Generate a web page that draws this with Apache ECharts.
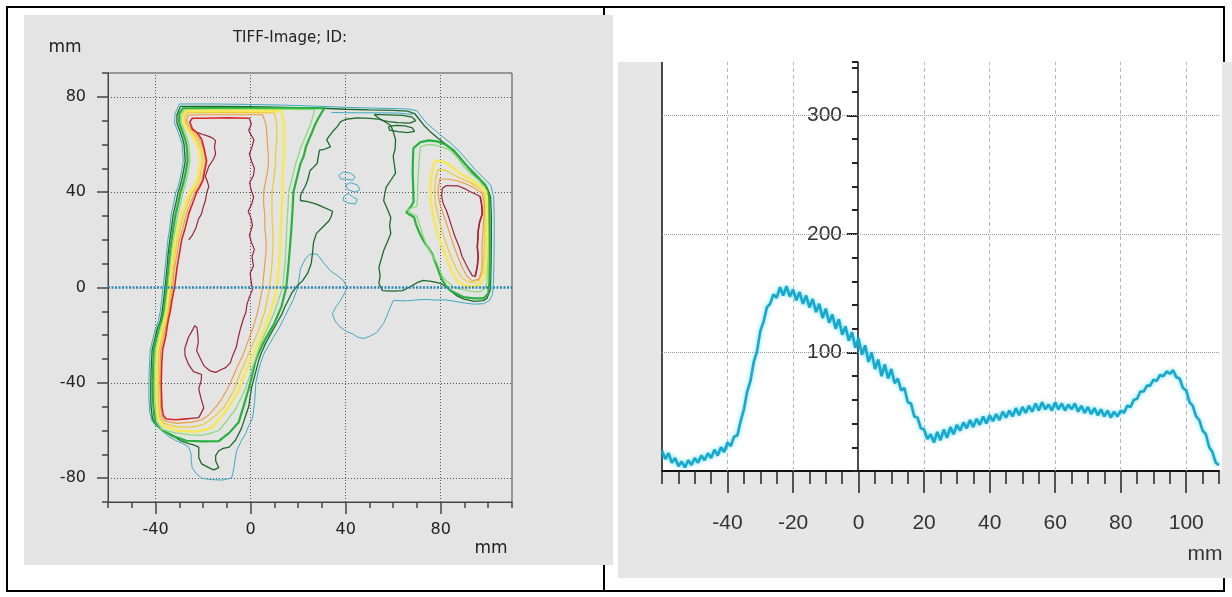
<!DOCTYPE html>
<html><head><meta charset="utf-8">
<script src="https://cdn.jsdelivr.net/npm/echarts@6/dist/echarts.min.js"></script>
<style>html,body{margin:0;padding:0;background:#fff;}#c{width:1232px;height:597px;}</style>
</head><body><div id="c"></div>
<script>
// ---------- LEFT PANEL: isodose contours (x mm, y mm) ----------
const leftXTicks = [-40, 0, 40, 80];
const leftYTicks = [-80, -40, 0, 40, 80];
const profileLineY = 0;

const cyanOuter = [[-30,77],[-15,77],[0,76.8],[15,76.5],[30,76],[40,75.6],[50,75.3],[60,75.1],[66,74.9],[70,74.2],[72,71.5],[74,69],[77,66.5],[80.5,63.5],[84.5,60.3],[88,57],[91,53.5],[94.5,49.5],[98,46],[101,43],[102.3,38],[102.5,30],[102.5,20],[102.4,10],[102.2,2],[101.8,-3],[100.5,-5.5],[98,-6.8],[94,-7],[90,-6.5],[86,-5.8],[82,-5.2],[78,-5.3],[74,-5],[70,-5.2],[66,-5.6],[62,-5.5],[60,-5.5],[58.8,-8.3],[57.5,-11.5],[56,-15],[54.5,-17],[53,-19],[50,-20.5],[47.5,-21.4],[45,-20.8],[43,-19.5],[40.5,-18.5],[37.8,-16.7],[35.5,-14],[34.4,-11],[36,-8],[37.8,-5.5],[39.5,-2.5],[40.6,0],[39,3],[36.5,5],[33.6,7],[31,10],[28,14],[25,14],[23,12],[21,8],[20.3,3],[19.5,-1],[18,-5],[16,-9],[14,-13],[12,-17],[9.5,-21],[7.5,-24.5],[5.5,-28],[4.3,-31.5],[3.3,-35],[2.2,-40],[1.7,-48],[0.8,-55],[-1,-58.5],[-2.1,-61.4],[-4,-64.5],[-5.9,-68.5],[-6.5,-72],[-7,-75.6],[-7.5,-78],[-8,-80],[-12,-80.8],[-16.4,-80.6],[-19,-80.3],[-20.6,-80],[-23,-78],[-24.6,-75.6],[-25,-72.5],[-25,-70],[-26,-67],[-28.5,-65.5],[-31.5,-64.2],[-34.5,-62.5],[-37.4,-60],[-39.8,-58],[-41.5,-56],[-42.5,-52],[-42.8,-46],[-42.8,-40],[-42.6,-33],[-42.2,-26],[-41,-21],[-40,-17],[-38.8,-14],[-38,-10],[-37.4,-5],[-36.8,0],[-36,8],[-35.4,14],[-34.8,20],[-34,25],[-33.4,31],[-32.4,35],[-31.5,40],[-30.6,42],[-29.8,45],[-29,49],[-28.3,53],[-28.6,57],[-28.8,60],[-29.4,62],[-30.4,65],[-32,69],[-31.8,73],[-30,77]];
const cyanTop = [[34,73.4],[45,73.3],[55,73.3],[62,73.2],[68,72.6]];
const cyanIsland1 = [[37,47],[39,48.5],[42,48],[44,46.5],[43,45],[40,45.5],[38,45.5],[37,47]];
const cyanIsland2 = [[40,43],[42,44],[45,43],[46,41],[44,40],[41,41],[40,43]];
const cyanIsland3 = [[39,38],[41,39.5],[43,38],[45,37],[44,35],[41,35.5],[39,36.5],[39,38]];

const dkGreenMain = [[-29.5,76],[-15,76],[0,75.9],[15,75.6],[30,75.2],[40,74.8],[50,74.5],[60,74.3],[66,74],[69,73],[71,70.5],[73,68],[75.5,65.5],[79,62.5],[83,59.5],[86.5,56],[89.5,52.5],[93,48.5],[96.5,45],[99.5,42],[101,38],[101.3,30],[101.3,20],[101.2,10],[101,2],[100.8,-1.3],[99.5,-4.5],[98,-5.5],[94,-5.8],[89.5,-4.8],[86.5,-3.3],[84,-1.3],[81.5,0.8],[80,1.7],[76,2.6],[72.7,3],[70,2],[68,0.8],[64,-1.3],[60,-1.5],[55.5,-1.3],[54,1.7],[54.5,5],[54,8.4],[55,12],[56,15.5],[57.5,19],[59,22.7],[58.5,26],[59,29.4],[57.5,33],[56,36.5],[56.5,39.5],[57,42],[59,45],[61,48],[60.5,51.5],[60,55],[60.8,58],[61,62],[60,65.5],[59,68],[55,70.5],[50,71],[45,71.2],[40,70.6],[37.8,69.5],[36.5,67.5],[35,66],[33.5,64],[32,62],[33.6,59],[31,58],[29,57.6],[28.5,55],[28,52],[26.5,50.5],[25,49],[24.5,47],[24,45],[23,42.5],[22,40.7],[21,38.5],[21,36.5],[24,36],[27.7,35],[31,33.5],[34.5,32],[34,30],[33,28],[30.5,25.5],[27.7,22.7],[26.5,19],[26,14],[25.5,10],[24,6],[22,3],[19.5,0.5],[17.5,-2],[16,-5],[14.5,-8],[13,-11.5],[11,-15],[9,-18.5],[6.3,-23.5],[4.5,-27.5],[3.4,-30.7],[2,-36],[0.4,-42],[-0.8,-50],[-2.5,-55],[-3.8,-59],[-6.3,-64],[-9,-67],[-11.5,-67.5],[-13.4,-68.5],[-14.7,-70.5],[-14.7,-72.7],[-13.4,-75.6],[-15.5,-76.5],[-17.6,-75.6],[-20.6,-74],[-21.8,-71.4],[-21.8,-67],[-24,-66],[-26,-65.5],[-29,-64.5],[-31.5,-63],[-34,-61.8],[-36,-60.5],[-38.5,-58.5],[-40.2,-57],[-41.3,-55],[-41.9,-50],[-42,-46],[-42,-40],[-41.8,-33],[-41.4,-26],[-40.2,-21],[-39.2,-17],[-38,-14],[-37.2,-10],[-36.6,-5],[-36,0],[-35.2,8],[-34.7,14],[-34,20],[-33.3,25],[-32.5,31],[-31.5,35],[-30.5,40],[-29.8,42],[-29,45],[-28.2,49],[-27.5,53],[-27.8,57],[-28,60],[-28.5,62],[-29.5,65],[-31,69],[-31,72.5],[-29.5,76]];
const dkGreenLoop1 = [[52,72.6],[58,72.4],[64,72.2],[68,71.5],[69.5,70],[67,69],[62,69.2],[58,69.6],[55,70.2],[52,72.6]];
const dkGreenLoop2 = [[58,67.5],[61,68],[65,67.8],[68,67],[69,65.5],[66,65],[62,65.4],[58.5,66],[58,67.5]];

const greenLeft = [[31,75.2],[20,75.3],[0,75.3],[-15,75.3],[-28.5,75.2],[-30,73],[-30,69],[-28.5,65],[-27.5,62],[-27,60],[-26.7,57],[-26.5,53],[-27.2,49],[-28,45],[-28.8,42],[-29.5,40],[-30.5,35],[-31.5,31],[-32.5,25],[-33.2,20],[-34,14],[-34.5,8],[-35.3,0],[-35.9,-5],[-36.5,-10],[-37.5,-14],[-38.5,-17],[-39.5,-21],[-40.7,-26],[-41,-33],[-41.2,-40],[-41.1,-46],[-40.9,-50],[-40.2,-56.5],[-37,-60],[-32,-62.5],[-27,-64.3],[-20,-64.6],[-13.4,-64.5],[-9,-61],[-5,-56.5],[-3,-50],[-0.8,-42.5],[0.6,-37],[2,-31],[4,-26],[6,-22],[8,-18.5],[10,-15],[11.5,-11.5],[13,-8],[14,-4],[15,0],[15.5,5],[16,10],[16.4,15],[16.8,20],[17.2,25],[17.5,30],[17.8,35],[18,40],[19,44],[20,48],[21,52],[22.3,55],[23.3,59],[24.5,62],[25.8,65],[27,68],[28.5,71],[31,75.2]];
const greenRight = [[68.5,58.5],[71.5,61],[75,61.7],[78.5,61.3],[82,60],[85.5,57.5],[88.5,54],[91.5,50.5],[95,47],[98.8,43],[100.4,38],[100.5,30],[100.6,20],[100.6,10],[100.5,2],[100,-2.5],[98,-4.6],[94,-4.6],[89.5,-4],[86.5,-2.5],[84,-1.3],[82,1],[80.7,3],[79.5,5.7],[78.6,8.4],[77.5,11.2],[76.5,14],[74.5,17],[72.7,19.7],[71,23],[69.6,26.5],[68.8,29.5],[67,30.5],[65.5,31.5],[67.5,34],[68.6,36],[68.4,42],[68.2,48],[68.3,53],[68.5,58.5]];

const ltGreenLeft = [[27,74.6],[15,74.7],[0,74.7],[-15,74.7],[-27.8,74.6],[-29.2,72],[-29.2,69],[-27.5,65],[-26.5,62],[-26,60],[-25.7,57],[-25.5,53],[-26.2,49],[-27,45],[-27.8,42],[-28.5,40],[-29.5,35],[-30.5,31],[-31.6,25],[-32.5,20],[-33.3,14],[-34,8],[-34.8,0],[-35.4,-5],[-36,-10],[-36.8,-14],[-37.8,-17],[-38.8,-21],[-40,-26],[-40.3,-33],[-40.4,-40],[-40.3,-46],[-40.1,-50],[-39.5,-56],[-37.5,-59.5],[-31.5,-61],[-25,-61.8],[-20.6,-62],[-17,-61.2],[-13.4,-60],[-10,-56],[-6.3,-51],[-4,-46.5],[-2,-42],[-0.5,-37.5],[1,-33],[2.5,-28.5],[4,-24],[6,-19.5],[8,-15],[10,-10.5],[11.5,-6],[13.5,0],[14,5],[14.5,10],[14.8,15],[15,20],[15.2,25],[15.5,30],[15.8,35],[16,40],[17,44],[18,48],[19,52],[20,55],[21.2,59],[22.5,62],[23.8,65],[25,68],[26,71],[27,74.6]];
const ltGreenRight = [[71.4,59],[74.5,60],[77.7,59.7],[81,58.8],[84,57.6],[87,54.5],[89.5,51],[93,47.5],[96,45],[98,42.4],[99.3,38],[99.5,34],[99.6,27],[99.6,20],[99.6,10],[99.5,2],[98.5,-0.5],[96.6,-1.7],[93,-1.6],[90,-1],[87.5,-0.5],[85.3,0.4],[82.8,2.4],[80.7,4.6],[79.6,7.5],[78.6,10],[76.5,13.5],[74.4,17],[72.8,21],[71.5,25],[70.5,28],[70,30],[67.5,31.2],[66,32.4],[68,33.5],[70,34],[70.3,38],[70.3,43],[70.6,48],[70.9,53],[71.4,59]];

const yellowLeft = [[13,74],[0,74.1],[-15,74.1],[-27,74],[-28.5,72],[-28,69],[-26.8,66.5],[-25.5,65],[-23.5,62],[-22.5,60],[-21.5,57],[-21,53],[-21.8,49],[-22.5,45],[-24,42],[-25.5,40],[-27.5,35],[-29,31],[-30.5,25],[-31.5,20],[-32.5,14],[-33.2,8],[-34,0],[-34.7,-5],[-35.3,-10],[-36.2,-14],[-37,-17],[-38,-21],[-39.2,-26],[-39.5,-33],[-39.6,-40],[-39.5,-46],[-39.3,-50],[-38.8,-55],[-37,-58],[-31,-60],[-23,-60.5],[-19,-59.7],[-16,-58.5],[-12.5,-54.5],[-9,-50],[-7,-46.5],[-5,-43],[-3.5,-39],[-2,-35],[0,-30.5],[2,-26],[3.8,-22],[5.5,-18],[7,-14],[8.5,-10],[10,-5],[11,0],[11.5,5],[12,10],[12.3,15],[12.5,20],[12.8,25],[13,30],[13.2,35],[13.5,40],[13.5,44],[13.5,48],[13.8,52],[14,55],[14,59],[14,62],[14,65],[14,68],[13.6,71],[13,74]];
const yellowRight = [[77.7,53.4],[80.3,53],[82.8,52],[85.5,50],[88,48],[91,46.3],[94,44.5],[97,42.3],[99,40.5],[99.4,36.5],[99.4,28],[99.4,19.7],[99.2,12],[98.5,4.6],[96.5,1.4],[93.7,0.4],[90.5,0.8],[87,2.5],[84.8,6.5],[82.8,11.3],[80.8,16.5],[78.6,22.7],[77,29],[75.8,36],[75.6,41],[75.8,45],[76.5,49.5],[77.7,53.4]];

const goldLeft = [[10,73.3],[0,73.4],[-15,73.4],[-26.5,73.3],[-27.8,71.5],[-27.3,69],[-26,66.5],[-24.5,65],[-22.5,62],[-21.5,60],[-20.5,57],[-20,53],[-20.8,49],[-21.5,45],[-23,42],[-24.5,40],[-26.5,35],[-28,31],[-29.5,25],[-30.8,20],[-31.8,14],[-32.6,8],[-33.4,0],[-34.1,-5],[-34.8,-10],[-35.6,-14],[-36.4,-17],[-37.3,-21],[-38.5,-26],[-38.8,-33],[-38.9,-40],[-38.8,-46],[-38.6,-50],[-38.2,-54.5],[-36.5,-57],[-31,-58.5],[-24,-58.5],[-20,-57.5],[-17.6,-56],[-14,-53],[-11,-50],[-9,-46.5],[-7,-43],[-5.5,-39],[-4,-35],[-2.2,-31],[-0.5,-27],[1.2,-23],[3,-19],[4.5,-14.5],[6,-10],[7,-5],[8,0],[8.5,5],[9,10],[9.3,15],[9.5,20],[9.3,25],[9,30],[9,35],[9,40],[9.6,44],[10,48],[10.5,52],[10.5,55],[10.8,59],[11,62],[11,65],[11,68],[10.6,71],[10,73.3]];
const goldRight = [[78.8,49.5],[82,49.2],[85.5,47.3],[89,45.5],[92.5,44],[95.8,42],[98.2,39.5],[98.6,35],[98.6,28],[98.5,20],[98.2,12],[97.6,6],[96,3],[93.7,2],[91,2.5],[88.5,4.5],[86.5,8],[84.5,12.5],[82.6,17.5],[80.8,23],[79.2,29],[77.8,35],[77.4,40],[77.8,45],[78.8,49.5]];

const orangeLeft = [[5,72.5],[-10,72.5],[-20,72.5],[-26.2,72.3],[-27,70.5],[-26.6,69],[-25,66.5],[-23.5,65],[-21.5,62],[-20.5,60],[-19.5,57],[-19,53],[-19.8,49],[-20.5,45],[-22,42],[-23.5,40],[-25.5,35],[-27,31],[-28.5,25],[-30,20],[-31,14],[-32,8],[-32.8,0],[-33.6,-5],[-34.3,-10],[-35,-14],[-35.8,-17],[-36.6,-21],[-37.8,-26],[-38.1,-33],[-38.2,-40],[-38,-46],[-37.9,-50],[-37.5,-54],[-36,-56],[-31,-57],[-24.7,-56.5],[-20.5,-55.5],[-17.6,-53.5],[-14.5,-50],[-12,-46.5],[-10,-43],[-8.5,-40],[-7,-36.5],[-5.5,-33],[-3.5,-29],[-2,-25],[-0.5,-21],[1,-17],[2.5,-12],[3.5,-8],[4.3,-4],[5,0],[5.5,5],[6,10],[6.5,15],[6.5,20],[6,25],[6,30],[5.5,35],[5.5,40],[6.2,44],[7,48],[7.5,52],[7.5,55],[7.2,59],[7,62],[6.8,65],[6.5,68],[5.8,70.5],[5,72.5]];
const orangeRight = [[79.5,45.5],[83,45.5],[87,44.8],[91,43.3],[94.5,41.5],[97.5,39.5],[98.3,35],[98.2,30],[97.8,24],[97.4,18],[97.4,12],[97.3,7.5],[96.2,3.5],[93.3,2.8],[91,4.8],[89,8.5],[87.2,13],[85.5,17.5],[84,22],[82.4,27],[81,31],[79.5,35.5],[78.8,40],[79.5,45.5]];

const redLeft = [[-0.5,71],[-10,71.2],[-20,71],[-24.5,71],[-25.6,69.5],[-24.5,66.5],[-22.5,65],[-20.5,62],[-19.5,58],[-18.5,53],[-19.5,48],[-20,45],[-21.5,42],[-22.7,40],[-24.5,35],[-26,31],[-27.5,25],[-29,20],[-30,14],[-31,8],[-32,0],[-33,-5],[-33.8,-10],[-34.5,-13],[-35.2,-17],[-35.8,-21],[-37,-26],[-37.4,-32],[-37.6,-40],[-37.4,-47],[-37.3,-50],[-36.8,-53.5],[-35.5,-55.2],[-31.5,-55.5],[-26,-55]];
const maroonLeft = [[-26,-55],[-21.8,-54.6],[-19.7,-50.5],[-21,-46],[-21.8,-42.5],[-20.8,-39],[-20.6,-36.5],[-24,-35.3],[-26,-32.5],[-27.6,-28.5],[-27.7,-25.7],[-26.2,-21],[-24.5,-18],[-23.5,-16],[-22.6,-16.8],[-22.2,-20],[-22,-23],[-22.7,-26.5],[-21.3,-29.5],[-19.5,-33],[-17,-35],[-14.7,-35.6],[-12.5,-34.5],[-10.5,-33.6],[-8.5,-31.5],[-7.5,-28.5],[-6,-25],[-5.2,-21],[-4.2,-17],[-3,-13],[-2,-10.5],[-1.5,-7],[-0.5,-4],[0.8,-1],[0.2,3],[-0.2,6],[1.2,9],[0.6,13],[1.6,16],[0.3,19],[-0.5,22],[0.8,26],[0.2,29],[-1,32],[0.5,35],[1.3,38],[0.2,41],[-0.4,44],[1.2,47],[1.6,50],[0.4,53],[-0.5,56],[0.6,59],[1.4,62],[0.2,64],[-0.8,66],[0.3,68.5],[-0.5,71]];
const maroonJag = [[-22.5,65],[-20,64.2],[-17.6,63.4],[-15.8,62.6],[-14.7,61.5],[-15.2,59],[-14.7,56],[-15.8,53.5],[-17.6,50.8],[-18.4,48.5],[-19,46.6],[-18.2,44.5],[-17.6,42.4],[-18.5,39.5],[-19,36.5],[-20,33.5],[-20.6,31],[-22,28.5],[-23,25],[-24.5,22],[-26,20]];
const maroonRight = [[80.7,41.6],[82.5,42.8],[85,42.6],[87.4,42.6],[90,41.5],[92.5,40.2],[95,39],[96.6,38.2],[97.2,35],[97.5,31],[96.4,27.5],[95.8,24],[95.6,20],[95.4,17],[95.8,13],[95.4,8.8],[94.5,4.6],[93.3,5],[91.5,8],[90,11],[89,13],[87.8,17],[86,21.4],[84.8,25],[83.2,30],[82.3,32.5],[81,35.3],[80.4,38.5],[80.7,41.6]];
const redRight = [[96.6,38.2],[97.2,35],[97.5,31],[96.4,27.5],[95.8,24],[95.6,20],[95.4,17],[95.8,13],[95.4,8.8],[94.5,4.6]];

// ---------- RIGHT PANEL: dose profile along y = 0 ----------
const rightXLabels = [-40, -20, 0, 20, 40, 60, 80, 100];
const rightYLabels = [100, 200, 300];
const rightXGrid = [-40, -20, 20, 40, 60, 80, 100];
const profile = [[-60,17],[-59,10],[-58,15],[-57,7],[-56,11],[-55,4],[-54,8],[-53,3],[-52,9],[-51,5],[-50,11],[-49,7],[-48,13],[-47,9],[-46,15],[-45,11],[-44,18],[-43,13],[-42,20],[-41,16],[-40,24],[-39,21],[-38,29],[-37,30],[-36,42],[-35,52],[-34,67],[-33,76],[-32,92],[-31,101],[-30,118],[-29,126],[-28,138],[-27,141],[-26,149],[-25,146],[-24,155],[-23,148],[-22,156],[-21,147],[-20,153],[-19,144],[-18,151],[-17,141],[-16,148],[-15,138],[-14,145],[-13,134],[-12,141],[-11,129],[-10,137],[-9,125],[-8,132],[-7,120],[-6,128],[-5,115],[-4,122],[-3,110],[-2,117],[-1,104],[0,112],[1,98],[2,106],[3,92],[4,100],[5,86],[6,94],[7,80],[8,90],[9,78],[10,86],[11,74],[12,78],[13,68],[14,70],[15,58],[16,57],[17,46],[18,45],[19,36],[20,35],[21,27],[22,31],[23,24],[24,33],[25,26],[26,35],[27,28],[28,37],[29,31],[30,39],[31,34],[32,41],[33,36],[34,43],[35,37],[36,44],[37,39],[38,46],[39,40],[40,47],[41,42],[42,48],[43,43],[44,50],[45,45],[46,51],[47,46],[48,53],[49,47],[50,54],[51,49],[52,55],[53,50],[54,57],[55,51],[56,58],[57,52],[58,56],[59,51],[60,58],[61,52],[62,57],[63,51],[64,56],[65,52],[66,57],[67,50],[68,55],[69,49],[70,54],[71,48],[72,53],[73,47],[74,52],[75,46],[76,51],[77,45],[78,50],[79,46],[80,51],[81,49],[82,55],[83,54],[84,60],[85,61],[86,67],[87,67],[88,72],[89,72],[90,77],[91,76],[92,81],[93,80],[94,84],[95,82],[96,85],[97,79],[98,78],[99,70],[100,68],[101,58],[102,55],[103,46],[104,43],[105,34],[106,31],[107,20],[108,16],[109,7],[110,5]];

// ---------- styles ----------
const LF = "'DejaVu Sans', sans-serif";
const RF = "'Liberation Sans', Arial, sans-serif";
const contours = [
  [cyanOuter,'#3fa9c4',1],[cyanTop,'#3fa9c4',1],[cyanIsland1,'#3fa9c4',1],[cyanIsland2,'#3fa9c4',1],[cyanIsland3,'#3fa9c4',1],
  [dkGreenMain,'#1c6b2c',1.3],[dkGreenLoop1,'#1c6b2c',1.3],[dkGreenLoop2,'#1c6b2c',1.3],
  [greenLeft,'#27b23f',2.2],[greenRight,'#27b23f',2.2],
  [ltGreenLeft,'#8fd97a',1.3],[ltGreenRight,'#8fd97a',1.3],
  [yellowLeft,'#f6e85a',2.6],[yellowRight,'#f6e85a',2.6],
  [goldLeft,'#f0cc34',1.3],[goldRight,'#f0cc34',1.3],
  [orangeLeft,'#ec9a3a',1.1],[orangeRight,'#ec9a3a',1.1],
  [redLeft,'#dc2222',1.6],[redRight,'#dc2222',1.6],
  [maroonLeft,'#9a2438',1.2],[maroonJag,'#9a2438',1.2],[maroonRight,'#9a2438',1.2]
];

const series = contours.map(function (c) {
  return {type:'line', xAxisIndex:0, yAxisIndex:0, data:c[0], symbol:'none', showSymbol:false,
    lineStyle:{color:c[1], width:c[2]}, silent:true, z:3};
});
series.push({type:'line', xAxisIndex:0, yAxisIndex:0, data:[[-60,-90]], symbol:'none', lineStyle:{opacity:0}, silent:true,
  markLine:{silent:true, z:1, symbol:['none','none'], label:{show:false}, animation:false,
    lineStyle:{color:'#555', type:[1,2], width:1},
    data: leftXTicks.map(v => ({xAxis:v})).concat(leftYTicks.filter(v => v !== profileLineY).map(v => ({yAxis:v})))}});
series.push({type:'line', xAxisIndex:0, yAxisIndex:0, data:[[-60,-90]], symbol:'none', lineStyle:{opacity:0}, silent:true,
  markLine:{silent:true, z:8, symbol:['none','none'], label:{show:false}, animation:false,
    lineStyle:{color:'#2b86b6', type:[2,1.5], width:2.6}, data:[{yAxis:profileLineY}]}});
series.push({type:'line', xAxisIndex:2, yAxisIndex:2, data:[[-60,0]], symbol:'none', lineStyle:{opacity:0}, silent:true,
  markLine:{silent:true, z:1, symbol:['none','none'], label:{show:false}, animation:false,
    data: rightXGrid.map(v => ({xAxis:v, lineStyle:{color:'#b8b8b8', type:[4,3], width:1}}))
      .concat(rightYLabels.map(v => ({yAxis:v, lineStyle:{color:'#9a9a9a', type:[1,1], width:1}})))}});
series.push({type:'line', xAxisIndex:2, yAxisIndex:2, data:profile, symbol:'none', showSymbol:false, z:10,
  lineStyle:{color:'#17a8cc', width:2.6, shadowColor:'rgba(70,205,235,0.8)', shadowBlur:4}});

const option = {
  animation:false,
  grid:[
    {left:108, top:73, width:404, height:429, show:true, borderColor:'#4a4a4a', borderWidth:1, backgroundColor:'transparent'},
    {left:662, top:62, width:557, height:409, show:false},
    // helper grid whose left edge sits at x = 0 mm of the right chart, carrying the dose axis
    {left:858, top:62, width:361, height:409, show:false}
  ],
  xAxis:[
    {gridIndex:0, type:'value', min:-60, max:110, interval:10, position:'bottom',
     axisLine:{show:true, onZero:false, lineStyle:{color:'#444', width:1}},
     axisTick:{show:true, length:6, lineStyle:{color:'#444', width:1.5}}, axisLabel:{show:false}, splitLine:{show:false}},
    {gridIndex:0, type:'value', min:-60, max:110, position:'bottom',
     axisLine:{show:false, onZero:false},
     axisTick:{show:true, length:12, customValues:leftXTicks, lineStyle:{color:'#444', width:1.5}},
     axisLabel:{show:true, customValues:leftXTicks, margin:20, fontSize:16, color:'#222', fontFamily:LF}, splitLine:{show:false}},
    {gridIndex:1, type:'value', min:-60, max:110, interval:5, position:'bottom',
     axisLine:{show:true, onZero:false, lineStyle:{color:'#111', width:2}},
     axisTick:{show:true, length:13, lineStyle:{color:'#222', width:1.5}}, axisLabel:{show:false}, splitLine:{show:false}},
    {gridIndex:1, type:'value', min:-60, max:110, position:'bottom',
     axisLine:{show:false, onZero:false},
     axisTick:{show:true, length:22, customValues:rightXLabels, lineStyle:{color:'#222', width:1.5}},
     axisLabel:{show:true, customValues:rightXLabels, margin:42, fontSize:21, color:'#333', fontFamily:RF}, splitLine:{show:false}},
    {gridIndex:2, type:'value', min:0, max:110, show:false}
  ],
  yAxis:[
    {gridIndex:0, type:'value', min:-90, max:90, interval:10, position:'left',
     axisLine:{show:true, onZero:false, lineStyle:{color:'#444'}},
     axisTick:{show:true, length:6, lineStyle:{color:'#444', width:1.5}}, axisLabel:{show:false}, splitLine:{show:false}},
    {gridIndex:0, type:'value', min:-90, max:90, position:'left',
     axisLine:{show:false, onZero:false},
     axisTick:{show:true, length:11, customValues:leftYTicks, lineStyle:{color:'#444', width:1.5}},
     axisLabel:{show:true, customValues:leftYTicks, margin:22, fontSize:16, color:'#222', fontFamily:LF}, splitLine:{show:false}},
    {gridIndex:1, type:'value', min:0, max:345, show:false},
    {gridIndex:2, type:'value', min:0, max:345, interval:20, position:'left',
     axisLine:{show:true, onZero:false, lineStyle:{color:'#111', width:1.5}},
     axisTick:{show:true, length:6, lineStyle:{color:'#222', width:2}}, axisLabel:{show:false}, splitLine:{show:false}},
    {gridIndex:2, type:'value', min:0, max:345, position:'left',
     axisLine:{show:false, onZero:false},
     axisTick:{show:true, length:11, customValues:rightYLabels, lineStyle:{color:'#222', width:2}},
     axisLabel:{show:true, customValues:rightYLabels, margin:16, fontSize:21, color:'#333', fontFamily:RF}, splitLine:{show:false}}
  ],
  graphic:{elements:[
    {type:'rect', z:-30, shape:{x:7, y:7, width:1217, height:584}, style:{fill:'none', stroke:'#000', lineWidth:2}, silent:true},
    {type:'line', z:-30, shape:{x1:604, y1:7, x2:604, y2:591}, style:{stroke:'#000', lineWidth:2}, silent:true},
    {type:'rect', z:-20, shape:{x:24, y:15, width:589, height:550}, style:{fill:'#e4e4e4'}, silent:true},
    {type:'rect', z:-20, shape:{x:618, y:62, width:614, height:516}, style:{fill:'#e6e6e6'}, silent:true},
    {type:'rect', z:-15, shape:{x:662, y:62, width:560, height:409}, style:{fill:'#ffffff'}, silent:true},
    {type:'line', z:-10, shape:{x1:662, y1:62, x2:662, y2:471}, style:{stroke:'#111', lineWidth:1.5}, silent:true},
    {type:'text', z:20, x:290, y:38, style:{text:'TIFF-Image; ID:', fill:'#222', font:'15px ' + LF, textAlign:'center', textVerticalAlign:'middle'}},
    {type:'text', z:20, x:65, y:48, style:{text:'mm', fill:'#222', font:'17px ' + LF, textAlign:'center', textVerticalAlign:'middle'}},
    {type:'text', z:20, x:491, y:549, style:{text:'mm', fill:'#222', font:'17px ' + LF, textAlign:'center', textVerticalAlign:'middle'}},
    {type:'text', z:20, x:1205, y:554, style:{text:'mm', fill:'#333', font:'21px ' + RF, textAlign:'center', textVerticalAlign:'middle'}}
  ]},
  series: series
};
const chart = echarts.init(document.getElementById('c'), null, {renderer:'canvas'});
chart.setOption(option);
</script></body></html>
